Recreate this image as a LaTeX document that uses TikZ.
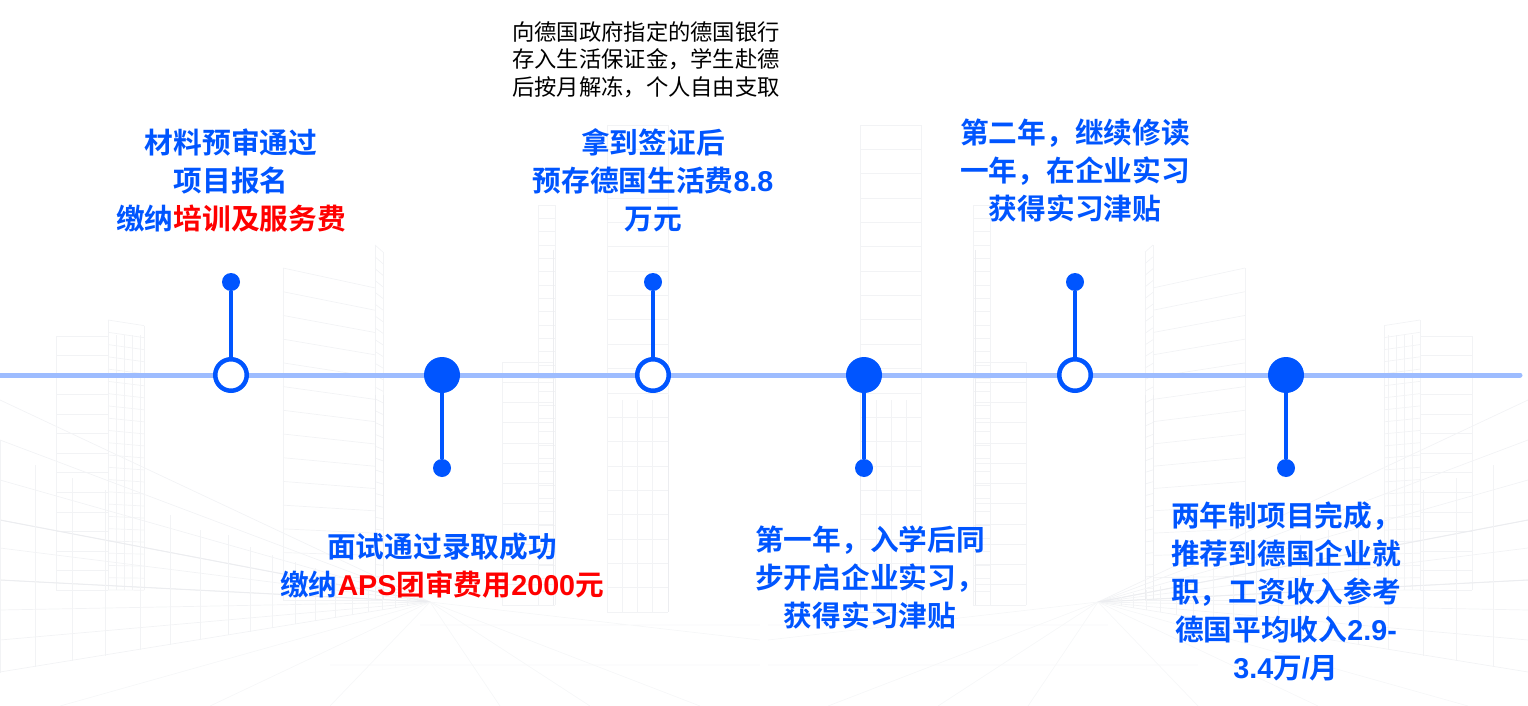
\documentclass[tikz,border=0pt]{standalone}
\usepackage{fontspec}
\setmainfont{Liberation Sans}
\newfontfamily\cjkb{Noto Sans CJK SC Bold}
\newfontfamily\cjkr{Noto Sans CJK SC}
\newfontfamily\latb{Liberation Sans Bold}
\definecolor{mainblue}{HTML}{0055FF}
\definecolor{lightblue}{HTML}{9DBCFF}
\definecolor{accent}{HTML}{FF0000}
\definecolor{sketch}{HTML}{F2F3F5}
\definecolor{sketchd}{HTML}{ECEDF0}
\definecolor{sketchf}{HTML}{F6F7F8}
\tikzset{
  head/.style={font=\fontsize{28.7}{38}\selectfont\cjkb,text=mainblue,align=center,inner sep=0pt},
  note/.style={font=\fontsize{22.3}{27.6}\selectfont\cjkr,text=black,align=center,inner sep=0pt},
  openhub/.style={circle,draw=mainblue,line width=4.5pt,fill=white,minimum size=31.5pt,inner sep=0pt},
  solidhub/.style={circle,fill=mainblue,minimum size=36pt,inner sep=0pt},
  tipdot/.style={circle,fill=mainblue,minimum size=18pt,inner sep=0pt},
  stem/.style={draw=mainblue,line width=3.6pt},
  axis/.style={draw=lightblue,line width=5pt,line cap=round},
  bg/.style={draw=sketch,line width=.7pt},
  bgd/.style={draw=sketchd,line width=1pt},
  bgf/.style={draw=sketchf,line width=.7pt},
}
\newcommand{\hot}[1]{\textcolor{accent}{#1}}
\newcommand{\lat}[1]{{\latb #1}}
% one tower: x left, x right, y top at left, y bottom, perspective factor, floors
\newcommand{\tower}[6]{%
  \draw[bg] (#1,#3) -- (#1,#4) (#2,{600+(#3-600)*#5}) -- (#2,#4);
  \foreach \k in {0,...,#6}{
    \pgfmathsetmacro{\yy}{#3+\k*(#4-#3)/#6}
    \draw[bg] (#1,\yy) -- (#2,{600+(\yy-600)*#5});
  }
}
% the left half of the faint street sketch; the right half is its mirror image
\newcommand{\halfsketch}{%
  \tower{56}{108}{336}{590}{1}{13}
  \tower{108}{144}{320}{590}{.98}{22}
  \foreach \x in {116,124,132,140}{\draw[bg] (\x,335) -- (\x,590);}
  \tower{283}{375}{268}{600}{.94}{14}
  \tower{375}{383}{245}{600}{.98}{30}
  \tower{502}{553}{362}{605}{1}{12}
  \tower{538}{555}{205}{605}{1}{30}
  \tower{607}{668}{125}{612}{1}{20}
  \foreach \x in {622,637,652}{\draw[bg] (\x,400) -- (\x,612);}
  \draw[bgd] (375,395) -- (375,600) (383,395) -- (383,600) (553,250) -- (553,605) (668,395) -- (668,612);
  % low block running towards the vanishing point
  \coordinate (vp) at (430,602);
  \foreach \y in {400,440,480,520,548,580,610,640,672}{\draw[bg] (0,\y) -- (vp);}
  \draw[bgd] (0,520) -- (vp) (0,580) -- (vp);
  \foreach \x/\t in {0/440,35/465,72/478,105/490,140/500,170/515,200/530,228/535,250/547,272/555,295/562,315/568,335/575,352/580,368/586,382/590,395/593,407/597}{
    \draw[bg] (\x,\t) -- (\x,{602+(430-\x)*.165});
  }
  % floor lines
  \foreach \x in {60,210,330,500,590,700}{\draw[bgf] (vp) -- (\x,706);}
  \draw[bgf] (430,602) -- (760,640) (420,625) -- (760,625) (330,665) -- (760,665);
}
\begin{document}
\begin{tikzpicture}[x=1pt,y=-1pt]
\useasboundingbox (0,0) rectangle (1528,706);
\begin{scope}
  \clip (0,0) rectangle (764,706);
  \halfsketch
\end{scope}
\begin{scope}[shift={(1528,0)},xscale=-1]
  \clip (0,0) rectangle (764,706);
  \halfsketch
\end{scope}
% timeline
\coordinate (L) at (0,375);
\coordinate (R) at (1520,375);
\draw[axis] (L) -- (R);
\foreach \n/\x in {a/231,c/653,e/1075}{
  \node[openhub] (hub\n) at (\x,375) {};
  \node[tipdot] (tip\n) at (\x,282) {};
  \draw[stem] (hub\n) -- (tip\n);
}
\foreach \n/\x in {b/442,d/864,f/1286}{
  \node[solidhub] (hub\n) at (\x,375) {};
  \node[tipdot] (tip\n) at (\x,468) {};
  \draw[stem] (hub\n) -- (tip\n);
}
\node[head] (ta) at (231,180) {材料预审通过\\项目报名\\缴纳\hot{培训及服务费}};
\node[head] (tc) at (653,180) {拿到签证后\\预存德国生活费\lat{8.8}\\万元};
\node[note] (nc) at (646,59.5) {向德国政府指定的德国银行\\存入生活保证金，学生赴德\\后按月解冻，个人自由支取};
\node[head] (te) at (1075,170.5) {第二年，继续修读\\一年，在企业实习\\获得实习津贴};
\node[head] (tb) at (442,566) {面试通过录取成功\\缴纳\hot{\lat{APS}团审费用\lat{2000}元}};
\node[head] (td) at (870,577) {第一年，入学后同\\步开启企业实习，\\获得实习津贴};
\node[head] (tf) at (1286,591.5) {两年制项目完成，\\推荐到德国企业就\\职，工资收入参考\\德国平均收入\lat{2.9-}\\\lat{3.4}万\lat{/}月};
\end{tikzpicture}
\end{document}
